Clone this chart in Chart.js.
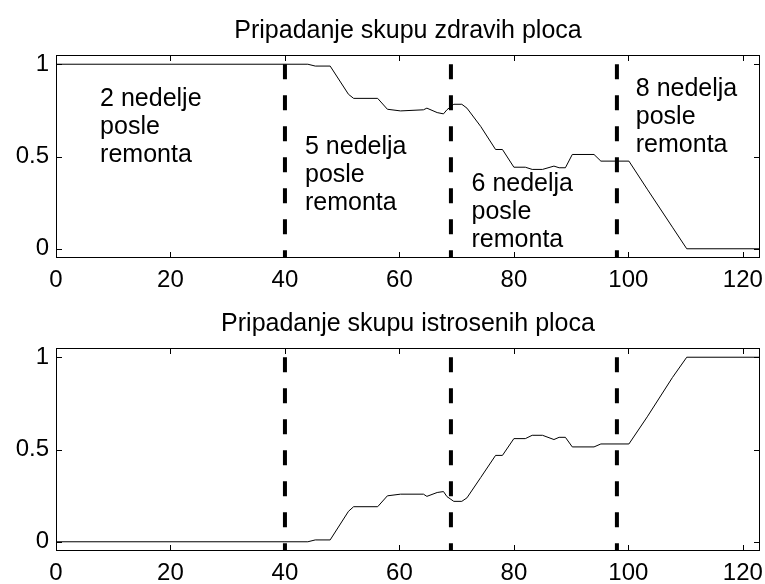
<!DOCTYPE html>
<html>
<head>
<meta charset="utf-8">
<script src="https://cdn.jsdelivr.net/npm/chart.js@4.4.1/dist/chart.umd.min.js"></script>
<style>
  body { margin: 0; background: #fff; }
  .panel { position: absolute; left: 0; width: 765px; height: 292px; }
</style>
</head>
<body>
<div class="panel" style="top:0"><canvas id="zdrave" width="765" height="292"></canvas></div>
<div class="panel" style="top:293px"><canvas id="istrosene" width="765" height="292"></canvas></div>
<script>
// Dani (x) i pripadnost skupovima zdravih i istrosenih ploca
const dani = [0, 40, 44, 45.3, 47.9, 51.1, 52, 56.2, 57.9, 60.2, 64.2, 64.8, 66.6, 67.7, 68.3,
    69.5, 70.9, 71.8, 74.2, 76.8, 78, 80, 82, 83.2, 85, 87, 87.9, 89, 90.2, 94, 95.2,
    100.1, 103.3, 107.7, 110.2, 123];
const zdrave = [1, 1, 1, 0.99, 0.99, 0.837, 0.815, 0.815, 0.756, 0.747, 0.753, 0.762, 0.738, 0.731, 0.753,
    0.783, 0.783, 0.762, 0.663, 0.538, 0.538, 0.442, 0.442, 0.43, 0.43, 0.448, 0.439, 0.439, 0.511, 0.511, 0.475,
    0.475, 0.323, 0.117, 0, 0];
const istrosene = [0, 0, 0, 0.01, 0.01, 0.165, 0.19, 0.19, 0.249, 0.258, 0.258, 0.246, 0.267, 0.272, 0.245,
    0.219, 0.219, 0.238, 0.348, 0.468, 0.468, 0.559, 0.559, 0.577, 0.577, 0.554, 0.566, 0.566, 0.514, 0.514, 0.53,
    0.53, 0.677, 0.89, 1, 1];

// Remonti (isprekidane vertikalne linije)
const remonti = [40, 69, 98];

const xTicks = [0, 20, 40, 60, 80, 100, 120];
const yTicks = [0, 0.5, 1];

const natpisi = [
    ['2 nedelje', 'posle', 'remonta'],
    ['5 nedelja', 'posle', 'remonta'],
    ['6 nedelja', 'posle', 'remonta'],
    ['8 nedelja', 'posle', 'remonta']
];
// sidra natpisa (srednji red) u koordinatama grafika
const natpisX = [7.7, 43.5, 72.6, 101.3];
const natpisY = [0.661, 0.398, 0.199, 0.715];

const FONT = '"Liberation Sans", Arial, Helvetica, sans-serif';

// naslov iznad ose, okvir sa podeocima okrenutim ka unutra + tekst
const okvir = {
    id: 'okvir',
    afterDraw(chart, args, opts) {
        const { ctx, chartArea: a, scales: { x, y } } = chart;
        ctx.save();
        ctx.fillStyle = '#000';
        ctx.font = '25px ' + FONT;
        ctx.textAlign = 'center';
        ctx.textBaseline = 'middle';
        ctx.fillText(opts.naslov, (a.left + a.right) / 2, 31.5);

        ctx.strokeStyle = '#000';
        ctx.lineWidth = 1;
        ctx.strokeRect(a.left + 0.5, a.top + 0.5, a.right - a.left - 1, a.bottom - a.top - 1);
        ctx.beginPath();
        xTicks.forEach(v => {
            const px = Math.round(x.getPixelForValue(v)) + 0.5;
            ctx.moveTo(px, a.bottom);
            ctx.lineTo(px, a.bottom - 6);
            ctx.moveTo(px, a.top);
            ctx.lineTo(px, a.top + 6);
        });
        yTicks.forEach(v => {
            const py = Math.round(y.getPixelForValue(v)) + 0.5;
            ctx.moveTo(a.left, py);
            ctx.lineTo(a.left + 6, py);
            ctx.moveTo(a.right, py);
            ctx.lineTo(a.right - 6, py);
        });
        ctx.stroke();

        if (opts.tekst) {
            ctx.textAlign = 'left';
            natpisi.forEach((redovi, i) => {
                const px = x.getPixelForValue(natpisX[i]);
                const py = y.getPixelForValue(natpisY[i]);
                redovi.forEach((t, j) => ctx.fillText(t, px, py + (j - 1) * 28));
            });
        }
        ctx.restore();
    }
};

function napraviGrafik(id, naslov, vrednosti, tekst) {
    const datasets = [{
        data: dani.map((d, i) => ({ x: d, y: vrednosti[i] })),
        borderColor: '#000',
        borderWidth: 1,
        pointRadius: 0,
        tension: 0
    }];
    remonti.forEach(r => datasets.push({
        data: [{ x: r, y: 1 }, { x: r, y: -0.05 }],
        borderColor: '#000',
        borderWidth: 4,
        borderDash: [15, 16],
        pointRadius: 0
    }));

    return new Chart(document.getElementById(id).getContext('2d'), {
        type: 'line',
        data: { datasets },
        options: {
            responsive: false,
            animation: false,
            devicePixelRatio: 1,
            layout: { padding: { left: 1, right: 5, top: 55, bottom: 0 } },
            scales: {
                x: {
                    type: 'linear',
                    min: 0,
                    max: 123,
                    grid: { display: false, drawTicks: false },
                    border: { display: false },
                    afterBuildTicks: s => { s.ticks = xTicks.map(v => ({ value: v })); },
                    afterFit: s => {
                        s.height = 34;
                        s.paddingLeft = 0;
                        s.paddingRight = 0;
                    },
                    ticks: {
                        color: '#000',
                        font: { family: FONT, size: 24 },
                        padding: 8,
                        maxRotation: 0,
                        autoSkip: false
                    }
                },
                y: {
                    min: -0.05,
                    max: 1.05,
                    grid: { display: false, drawTicks: false },
                    border: { display: false },
                    afterBuildTicks: s => { s.ticks = yTicks.map(v => ({ value: v })); },
                    afterFit: s => {
                        s.width = 55;
                        s.paddingTop = 0;
                        s.paddingBottom = 0;
                    },
                    ticks: {
                        color: '#000',
                        font: { family: FONT, size: 24 },
                        padding: 7,
                        callback: v => String(v)
                    }
                }
            },
            plugins: {
                legend: { display: false },
                tooltip: { enabled: false },
                title: { display: false },
                okvir: { tekst, naslov }
            }
        },
        plugins: [okvir]
    });
}

napraviGrafik('zdrave', 'Pripadanje skupu zdravih ploca', zdrave, true);
napraviGrafik('istrosene', 'Pripadanje skupu istrosenih ploca', istrosene, false);
</script>
</body>
</html>
